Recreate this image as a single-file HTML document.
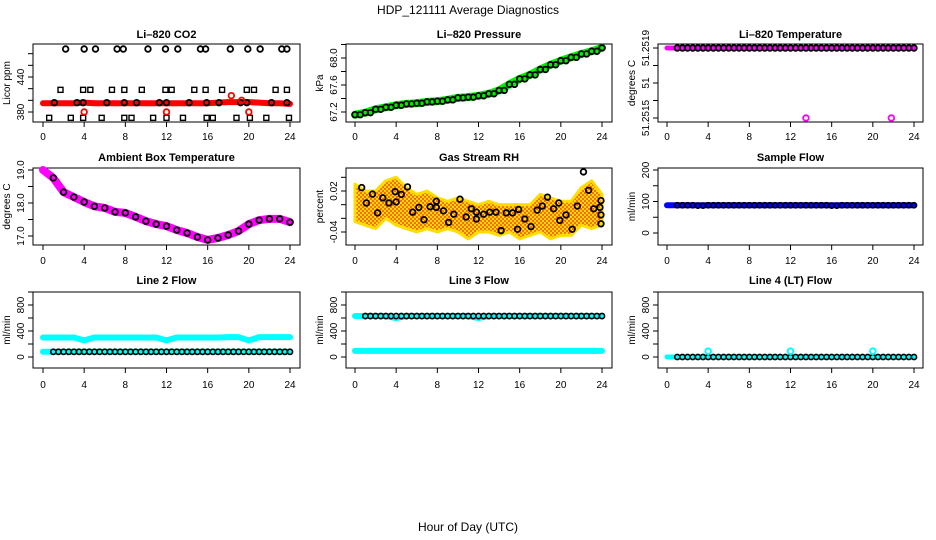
<!DOCTYPE html>
<html><head><meta charset="utf-8"><style>
html,body{margin:0;padding:0;background:#fff}
svg{display:block;font-family:"Liberation Sans",Arial,sans-serif}
</style></head><body>
<svg id="c" width="936" height="540" viewBox="0 0 936 540">
<defs>
<pattern id="rhpat" width="4" height="4" patternUnits="userSpaceOnUse">
<rect width="4" height="4" fill="#ffdd00"/>
<rect width="2" height="2" fill="#ff6a00"/>
<rect x="2" y="2" width="2" height="2" fill="#ff6a00"/>
</pattern>
</defs>
<text x="468" y="14" font-size="12" text-anchor="middle">HDP_121111  Average Diagnostics</text>
<text x="468" y="531" font-size="12" text-anchor="middle">Hour of Day (UTC)</text>
</svg>
<script>
// ---------- data ----------
const hours = [0,1,2,3,4,5,6,7,8,9,10,11,12,13,14,15,16,17,18,19,20,21,22,23,24];
const xTicks = [0,4,8,12,16,20,24];
// CO2
const co2Red = [395,395,395,395,396,395,395,395,395,395,395,395,395,395,395,395,395,396,397,397,397,396,395,395,394];
const co2TopX = [2.2,4.0,5.1,7.2,7.8,10.2,11.9,13.1,15.3,15.8,18.2,19.9,21.1,23.2,23.7];
const co2TopY = [488,488,488,488,488,488,488,488,488,488,488,488,488,488,488];
const co2SqX = [1.7,3.9,4.6,6.7,7.9,9.6,11.9,12.5,14.7,15.8,17.4,19.8,20.5,22.6,23.7];
const co2SqY = [418,418,418,418,418,418,418,418,418,418,418,418,418,418,418];
const co2MidX = [1.1,3.3,3.9,6.2,7.9,9.1,11.3,12.0,14.2,15.9,17.1,19.2,19.8,22.2,23.7];
const co2MidY = [396,396,396,396,396,396,396,396,396,396,396,396,396,396,396];
const co2LowX = [0.6,2.7,3.9,5.7,7.9,8.6,10.7,12.0,13.6,15.9,16.5,18.8,20.1,21.7,23.9];
const co2LowY = [370,370,370,370,370,370,370,370,370,370,370,370,370,370,370];
const co2OutX = [4.0,12.0,20.0,18.3,19.3];
const co2OutY = [380,380,380,408,400];
// Pressure
const pres = [67.16,67.19,67.24,67.27,67.30,67.32,67.33,67.35,67.36,67.38,67.41,67.42,67.44,67.47,67.52,67.61,67.69,67.75,67.83,67.90,67.96,68.01,68.06,68.10,68.15];
// Li-820 temperature
const liTemp = [51.2519,51.2519,51.2519,51.2519,51.2519,51.2519,51.2519,51.2519,51.2519,51.2519,51.2519,51.2519,51.2519,51.2519,51.2519,51.2519,51.2519,51.2519,51.2519,51.2519,51.2519,51.2519,51.2519,51.2519,51.2519];
const liOutX = [13.5,21.8];
const liOutY = [51.2515,51.2515];
// Ambient
const amb = [19.0,18.76,18.33,18.18,18.03,17.9,17.85,17.73,17.7,17.58,17.45,17.36,17.3,17.18,17.09,16.97,16.88,16.94,17.03,17.15,17.36,17.48,17.52,17.52,17.42];
// RH
const rhHi = [0.03,0.02,0.02,0.035,0.04,0.025,0.015,0.02,0.01,0.005,0.01,0.005,0.0,0.005,0.0,0.0,0.0,0.0,0.015,0.01,0.005,0.005,0.025,0.035,0.015];
const rhLo = [-0.025,-0.03,-0.035,-0.02,-0.03,-0.035,-0.04,-0.035,-0.04,-0.035,-0.04,-0.05,-0.04,-0.04,-0.045,-0.04,-0.05,-0.045,-0.04,-0.05,-0.045,-0.045,-0.03,-0.035,-0.03];
const rhBlkX = [0.65,1.1,1.7,2.2,2.7,3.3,3.9,4.0,4.5,5.1,5.6,6.2,6.7,7.3,7.9,7.9,8.6,9.1,9.6,10.2,10.8,11.3,11.8,11.8,12.5,13.1,13.7,14.2,14.7,15.3,15.8,15.9,16.5,17.1,17.7,18.2,18.7,19.3,19.8,19.9,20.5,21.1,21.6,22.2,22.7,23.2,23.8,23.9,23.9,23.9];
const rhBlkY = [0.025,0.0025,0.0155,-0.012,0.010,0.0025,0.019,0.004,0.015,0.026,-0.011,-0.004,-0.022,-0.003,0.005,-0.004,-0.009,-0.026,-0.014,0.008,-0.018,-0.006,-0.011,-0.021,-0.014,-0.011,-0.011,-0.038,-0.012,-0.012,-0.036,-0.007,-0.021,-0.032,-0.008,-0.002,0.011,-0.006,0.0025,-0.023,-0.015,-0.036,-0.002,0.048,0.021,-0.006,-0.004,0.006,-0.015,-0.028];
// Sample flow
const sampBlue = [88,88,88,88,88,88,88,88,88,88,88,88,88,88,88,88,88,88,88,88,88,88,88,88,88];
const sampBlk = [88,88,88,87,88,88,88,88,88,88,88,88,88,88,88,88,87,88,88,88,88,88,88,88,88];
// Line 2
const l2Cyan = [300,300,300,300,255,300,300,300,300,300,300,300,255,300,300,300,300,300,305,305,255,305,305,305,305];
const l2Low = [80,80,80,80,80,80,80,80,80,80,80,80,80,80,80,80,80,80,80,80,80,80,80,80,80];
// Line 3
const l3Up = [630,630,630,630,600,630,630,630,630,630,630,630,600,630,630,630,630,630,630,630,630,630,630,630,630];
const l3Blk = [630,630,630,630,630,630,630,630,630,630,630,630,630,630,630,630,630,630,630,630,630,630,630,630,630];
const l3Low = [95,95,95,95,95,95,95,95,95,95,95,95,95,95,95,95,95,95,95,95,95,95,95,95,95];
// Line 4
const l4 = [0,0,0,0,0,0,0,0,0,0,0,0,0,0,0,0,0,0,0,0,0,0,0,0,0];
const l4OutX = [4,12,20];
const l4OutY = [90,90,90];

// ---------- layout ----------
const NS = "http://www.w3.org/2000/svg";
const svg = document.getElementById('c');
const cols = [{l:33,r:300,x0:43,x24:290},{l:346,r:612,x0:355,x24:602},{l:658,r:923,x0:667,x24:914}];
const rows = [{t:44,b:122,ty:38,ly:140},{t:168,b:245,ty:161,ly:264},{t:292,b:368,ty:284,ly:388}];
function mk(tag, attrs, parent){const e=document.createElementNS(NS,tag);for(const k in attrs)e.setAttribute(k,attrs[k]);(parent||svg).appendChild(e);return e;}

function panel(ci, ri, title, ylab, v1, p1, v2, p2, yTickVals, yTickLabs, name){
  const C=cols[ci], R=rows[ri];
  const g = mk('g',{});
  
  
  const xs = h => C.x0 + (C.x24-C.x0)*h/24;
  const ys = v => p1 + (v-v1)*(p2-p1)/(v2-v1);
  const t = mk('text',{x:(C.l+C.r)/2,y:R.ty,'font-size':11,'font-weight':'bold','text-anchor':'middle'},g);
  t.textContent = title;
  
  
  const box = mk('rect',{x:C.l,y:R.t,width:C.r-C.l,height:R.b-R.t,fill:'none',stroke:'#000','stroke-width':1},g);
  
  
  const xa = mk('g',{},g);
  
  
  mk('line',{x1:xs(0),x2:xs(24),y1:R.b,y2:R.b,stroke:'#000'},xa);
  xTicks.forEach(h=>{
    mk('line',{x1:xs(h),x2:xs(h),y1:R.b,y2:R.b+5,stroke:'#000'},xa);
    const tl=mk('text',{x:xs(h),y:R.ly,'font-size':10,'text-anchor':'middle'},xa);
    tl.textContent=h;
    
    
  });
  const ya = mk('g',{},g);
  
  
  const yt = yTickVals.map(ys);
  mk('line',{x1:C.l,x2:C.l,y1:Math.min(...yt),y2:Math.max(...yt),stroke:'#000'},ya);
  yTickVals.forEach((v,i)=>{
    const y=ys(v);
    mk('line',{x1:C.l-5,x2:C.l,y1:y,y2:y,stroke:'#000'},ya);
    if(yTickLabs[i]){
      const tl=mk('text',{x:C.l-9,y:y,'font-size':10,'text-anchor':'middle',transform:`rotate(-90 ${C.l-9} ${y})`},ya);
      tl.textContent=yTickLabs[i];
      
      
    }
  });
  const cy=(R.t+R.b)/2;
  const yl=mk('text',{x:C.l-23,y:cy,'font-size':10,'text-anchor':'middle',transform:`rotate(-90 ${C.l-23} ${cy})`},g);
  yl.textContent=ylab;
  
  
  return {g,xs,ys};
}
function band(P, xv, yv, color, w, name){
  const pts = xv.map((h,i)=>P.xs(h)+','+P.ys(yv[i])).join(' ');
  const pl = mk('polyline',{points:pts,fill:'none',stroke:color,'stroke-width':w,'stroke-linecap':'round','stroke-linejoin':'round'},P.g);
  
  
}
function pts(P, xv, yv, color, r, name, sw, half){
  xv.forEach((h,i)=>{
    const list = half ? [h, h+0.5] : [h];
    list.forEach(hh=>{
      if(hh>24) return;
      const c = mk('circle',{cx:P.xs(hh),cy:P.ys(yv[i]),r:r,fill:'none',stroke:color,'stroke-width':sw||1.8},P.g);
      
      
    });
  });
}
function sq(P, xv, yv, name){
  xv.forEach((h,i)=>{
    const r = mk('rect',{x:P.xs(h)-2.5,y:P.ys(yv[i])-2.5,width:5,height:5,fill:'none',stroke:'#000','stroke-width':1.4},P.g);
    
    
  });
}

// Panel 1: CO2
let P = panel(0,0,'Li\u2013820 CO2','Licor ppm',380,112,440,77,[380,400,420,440,460,480],['380','','','440','',''],'co2');
band(P,hours,co2Red,'#ff0000',6,'co2-red-series');
sq(P,co2SqX,co2SqY,'co2-square-point');
pts(P,co2TopX,co2TopY,'#000',2.8,'co2-top-point');
pts(P,co2MidX,co2MidY,'#000',2.8,'co2-mid-point');
sq(P,co2LowX,co2LowY,'co2-low-point');
pts(P,co2OutX,co2OutY,'#ff0000',2.8,'co2-red-outlier');

// Panel 2: Pressure
P = panel(1,0,'Li\u2013820 Pressure','kPa',67.2,112,68.0,58,[67.2,67.4,67.6,67.8,68.0,68.2],['67.2','','67.6','','68.0',''],'pressure');
band(P,hours,pres,'#00ee00',8,'pressure-green-series');
pts(P,hours,pres,'#000',2.8,'pressure-black-point',1.8,true);

// Panel 3: Li temp
P = panel(2,0,'Li\u2013820 Temperature','degrees C',51.2515,118,51.2519,48,[51.2515,51.2516,51.2517,51.2518,51.2519],['51.2515','','51','','51.2519'],'li-temperature');
band(P,hours,liTemp,'#ff00ff',5,'li-temp-magenta-series');
pts(P,hours.slice(1),liTemp.slice(1),'#000',2.8,'li-temp-black-point',1.8,true);
pts(P,liOutX,liOutY,'#ff00ff',2.8,'li-temp-outlier');

// Panel 4: Ambient
P = panel(0,1,'Ambient Box Temperature','degrees C',17.0,236,19.0,170,[17.0,17.5,18.0,18.5,19.0],['17.0','','18.0','','19.0'],'ambient');
band(P,hours,amb,'#ff00ff',8,'ambient-magenta-series');
pts(P,hours.slice(1),amb.slice(1),'#000',2.8,'ambient-black-point');

// Panel 5: RH
P = panel(1,1,'Gas Stream RH','percent',0.02,191,-0.04,232,[-0.04,-0.02,0.0,0.02,0.04],['-0.04','','','0.02',''],'rh');
{
  const top = hours.map((h,i)=>P.xs(h)+','+P.ys(rhHi[i]));
  const bot = hours.slice().reverse().map((h,j)=>{const i=hours.length-1-j;return P.xs(h)+','+P.ys(rhLo[i]);});
  const poly = mk('polygon',{points:top.concat(bot).join(' '),fill:'url(#rhpat)',stroke:'#ffdd00','stroke-width':3,'stroke-linejoin':'round'},P.g);
  
  
}
pts(P,rhBlkX,rhBlkY,'#000',2.8,'rh-black-point');

// Panel 6: Sample flow
P = panel(2,1,'Sample Flow','ml/min',0,233,200,170,[0,50,100,150,200],['0','','100','','200'],'sample-flow');
band(P,hours,sampBlue,'#0000ff',6,'sample-flow-blue-series');
pts(P,hours.slice(1),sampBlk.slice(1),'#000',2.6,'sample-flow-black-point',1.6,true);

// Panel 7: Line 2
P = panel(0,2,'Line 2 Flow','ml/min',0,357,400,331,[0,200,400,600,800,1000],['0','','400','','800',''],'line2-flow');
band(P,hours,l2Cyan,'#00ffff',6,'line2-cyan-upper-series');
band(P,hours,l2Low,'#00ffff',6,'line2-cyan-lower-series');
pts(P,hours.slice(1),l2Low.slice(1),'#000',2.6,'line2-black-point',1.6,true);

// Panel 8: Line 3
P = panel(1,2,'Line 3 Flow','ml/min',0,357,400,331,[0,200,400,600,800,1000],['0','','400','','800',''],'line3-flow');
band(P,hours,l3Up,'#00ffff',6,'line3-cyan-upper-series');
band(P,hours,l3Low,'#00ffff',6,'line3-cyan-lower-series');
pts(P,hours.slice(1),l3Blk.slice(1),'#000',2.6,'line3-black-point',1.6,true);

// Panel 9: Line 4
P = panel(2,2,'Line 4 (LT) Flow','ml/min',0,357,400,331,[0,200,400,600,800,1000],['0','','400','','800',''],'line4-flow');
band(P,hours,l4,'#00ffff',5,'line4-cyan-series');
pts(P,hours.slice(1),l4.slice(1),'#000',2.6,'line4-black-point',1.6,true);
pts(P,l4OutX,l4OutY,'#00ffff',2.8,'line4-cyan-outlier',2);
</script>
</body></html>
